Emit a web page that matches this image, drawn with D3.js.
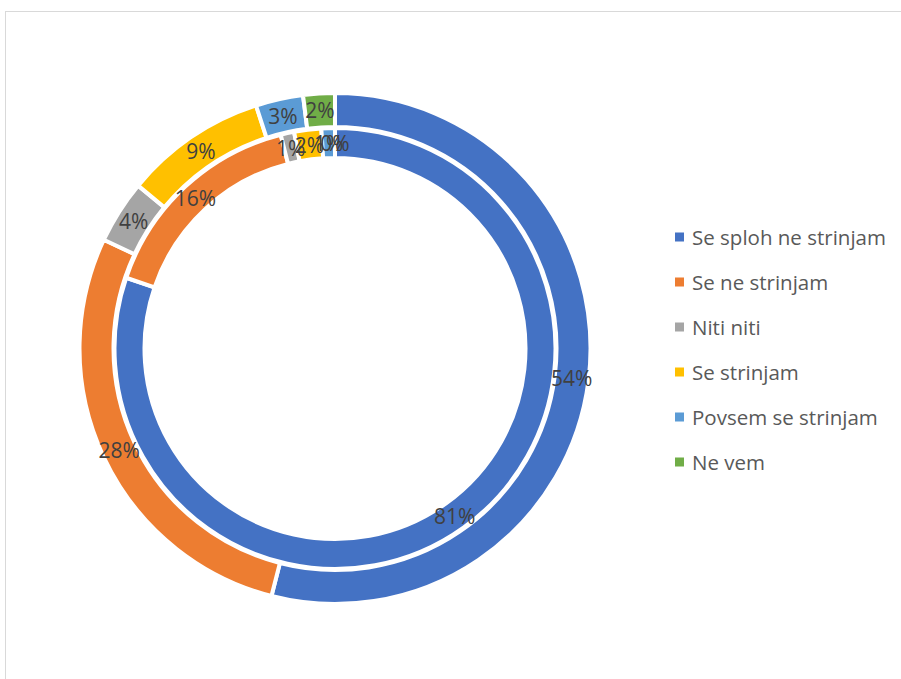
<!DOCTYPE html>
<html>
<head>
<meta charset="utf-8">
<script src="https://cdn.jsdelivr.net/npm/d3@7"></script>
<style>
  html, body { margin: 0; padding: 0; background: #fff; }
  svg { display: block; }
</style>
</head>
<body>
<script>
// Answer categories (legend order, clockwise from 12 o'clock)
const categories = ["Se sploh ne strinjam", "Se ne strinjam", "Niti niti", "Se strinjam", "Povsem se strinjam", "Ne vem"];
// Outer ring shares (%)
const outerValues = [54, 28, 4, 9, 3, 2];
// Inner ring shares (%)
const innerValues = [81, 16, 1, 2, 1, 0];
const colors = ["#4472C4", "#ED7D31", "#A5A5A5", "#FFC000", "#5B9BD5", "#70AD47"];

const W = 901, H = 679;
const cx = 335, cy = 348.5;
const font = "'Open Sans', Lato, sans-serif";

const svg = d3.select("body").append("svg").attr("width", W).attr("height", H);

// chart area frame
svg.append("rect")
  .attr("x", 5.5).attr("y", 11.5)
  .attr("width", W + 10).attr("height", H + 10)
  .attr("fill", "none").attr("stroke", "#d9d9d9").attr("stroke-width", 1);

const color = d3.scaleOrdinal().domain(categories).range(colors);
const pie = d3.pie().sort(null).value(d => d.v);

const rings = [
  { values: outerValues, inner: 221.5, outer: 255.5 },
  { values: innerValues, inner: 190.5, outer: 220.5 }
];

const g = svg.append("g").attr("transform", `translate(${cx},${cy})`);

rings.forEach(ring => {
  const data = categories.map((c, i) => ({ c, v: ring.values[i] }));
  const arcs = pie(data);
  const arc = d3.arc().innerRadius(ring.inner).outerRadius(ring.outer);
  g.append("g").selectAll("path").data(arcs).join("path")
    .attr("d", arc)
    .attr("fill", d => color(d.data.c))
    .attr("stroke", "#fff")
    .attr("stroke-width", 4)
    .attr("stroke-linejoin", "miter");
  ring.arcs = arcs; ring.arc = arc;
});

// value labels at each slice centroid
rings.forEach(ring => {
  g.append("g").selectAll("text").data(ring.arcs).join("text")
    .attr("transform", d => `translate(${ring.arc.centroid(d)})`)
    .attr("text-anchor", "middle")
    .attr("dominant-baseline", "central")
    .attr("font-family", font)
    .attr("font-size", 21)
    .attr("fill", "#404040")
    .text(d => d.data.v + "%");
});

// legend
const legend = svg.append("g").attr("transform", "translate(675,237)");
const row = legend.selectAll("g").data(categories).join("g")
  .attr("transform", (d, i) => `translate(0,${i * 45})`);
row.append("rect")
  .attr("x", 0).attr("y", -4.5).attr("width", 9).attr("height", 9)
  .attr("fill", d => color(d));
row.append("text")
  .attr("x", 17).attr("y", 0)
  .attr("dominant-baseline", "central")
  .attr("font-family", font)
  .attr("font-size", 20.5)
  .attr("fill", "#595959")
  .text(d => d);
</script>
</body>
</html>
